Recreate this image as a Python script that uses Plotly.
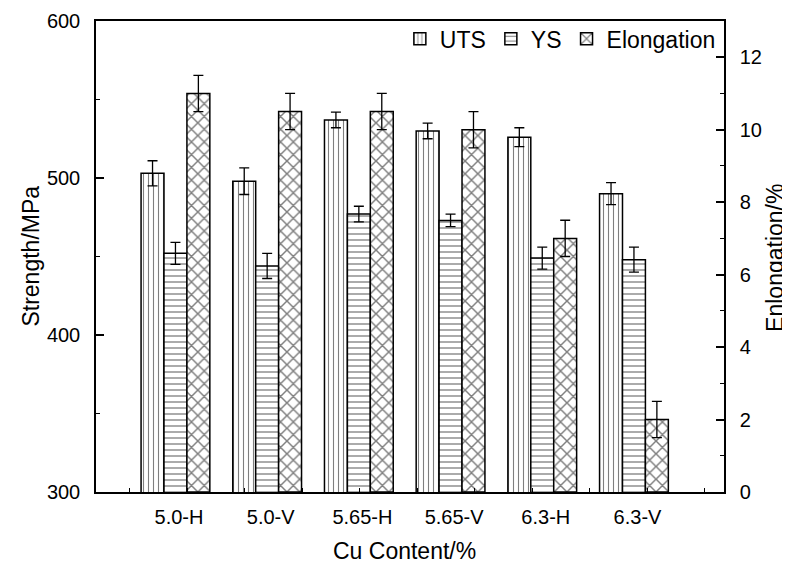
import plotly.graph_objects as go

categories = ["5.0-H", "5.0-V", "5.65-H", "5.65-V", "6.3-H", "6.3-V"]
uts = [503, 498, 537, 530, 526, 490]
uts_err = [8, 8.5, 5, 5, 6, 7]
ys = [452, 444, 477, 473, 449, 448]
ys_err = [7, 8, 5, 4, 7, 8]
elong = [11.0, 10.5, 10.5, 10.0, 7.0, 2.0]
elong_err = [0.5, 0.5, 0.5, 0.5, 0.5, 0.5]

x_title = "Cu Content/%"
y_title = "Strength/MPa"
y2_title = "Enlongation/%"

xpos = list(range(len(categories)))
FONT = "Liberation Sans, Arial, sans-serif"

def err(vals):
    return dict(type="data", array=vals, visible=True, color="black",
                thickness=1.3, width=5)

fig = go.Figure()
fig.add_trace(go.Bar(
    x=xpos, y=uts, name="UTS", offset=-0.37, width=0.25,
    marker=dict(color="white", line=dict(color="black", width=1.5),
                pattern=dict(shape="|", fgcolor="black", bgcolor="white",
                             size=5, solidity=0.22, fillmode="overlay")),
    error_y=err(uts_err), yaxis="y"))
fig.add_trace(go.Bar(
    x=xpos, y=ys, name="YS", offset=-0.12, width=0.25,
    marker=dict(color="white", line=dict(color="black", width=1.5),
                pattern=dict(shape="-", fgcolor="black", bgcolor="white",
                             size=6, solidity=0.22, fillmode="overlay")),
    error_y=err(ys_err), yaxis="y"))
fig.add_trace(go.Bar(
    x=xpos, y=elong, name="Elongation", offset=0.13, width=0.25,
    marker=dict(color="white", line=dict(color="black", width=1.5),
                pattern=dict(shape="x", fgcolor="black", bgcolor="white",
                             size=9, solidity=0.3, fillmode="overlay")),
    error_y=err(elong_err), yaxis="y2"))

title_font = dict(family=FONT, size=23, color="black")
fig.add_annotation(text=x_title, xref="paper", yref="paper", x=0.492, y=-0.1253,
                   xanchor="center", yanchor="middle", showarrow=False, font=title_font)
fig.add_annotation(text=y_title, xref="paper", yref="paper", x=-0.105, y=0.5,
                   xanchor="center", yanchor="middle", textangle=-90,
                   showarrow=False, font=title_font)
fig.add_annotation(text=y2_title, xref="paper", yref="paper", x=1.0812, y=0.497,
                   xanchor="center", yanchor="middle", textangle=-90,
                   showarrow=False, font=title_font)

# page body has an 8px default margin, so the figure is sized to fit the window
fig.update_layout(
    width=782, height=556,
    margin=dict(l=88, r=66, t=13, b=72, autoexpand=False),
    paper_bgcolor="white", plot_bgcolor="white",
    barmode="overlay",
    font=dict(family=FONT, size=20, color="black"),
    showlegend=True,
    legend=dict(orientation="h", x=0.995, xanchor="right", y=1.008, yanchor="top",
                font=dict(size=23), bgcolor="rgba(0,0,0,0)",
                traceorder="normal"),
    xaxis=dict(
        range=[-0.8615, 5.987], tickmode="array", tickvals=xpos,
        ticktext=categories, ticks="", ticklabelshift=4, ticklabelstandoff=6,
        showline=True, linecolor="black", linewidth=1.5, mirror=True,
        showgrid=False, zeroline=False, automargin=False,
        minor=dict(ticks="inside", tick0=-0.491, dtick=0.627, ticklen=4,
                   tickcolor="black", tickwidth=1, showgrid=False),
    ),
    yaxis=dict(
        range=[300, 600], tickmode="linear", tick0=300, dtick=100,
        ticks="inside", ticklen=8, tickwidth=1.5, tickcolor="black",
        ticklabelstandoff=10, automargin=False,
        minor=dict(ticks="inside", dtick=50, ticklen=4, tickwidth=1.2,
                   tickcolor="black"),
        showline=True, linecolor="black", linewidth=1.5,
        showgrid=False, zeroline=False,
    ),
    yaxis2=dict(
        range=[0, 13], tickmode="linear", tick0=0, dtick=2,
        overlaying="y", side="right",
        ticks="inside", ticklen=8, tickwidth=1.5, tickcolor="black",
        ticklabelstandoff=10, automargin=False,
        minor=dict(ticks="inside", dtick=1, ticklen=4, tickwidth=1.2,
                   tickcolor="black"),
        showline=True, linecolor="black", linewidth=1.5,
        showgrid=False, zeroline=False,
    ),
)

fig.write_html("out.html")
